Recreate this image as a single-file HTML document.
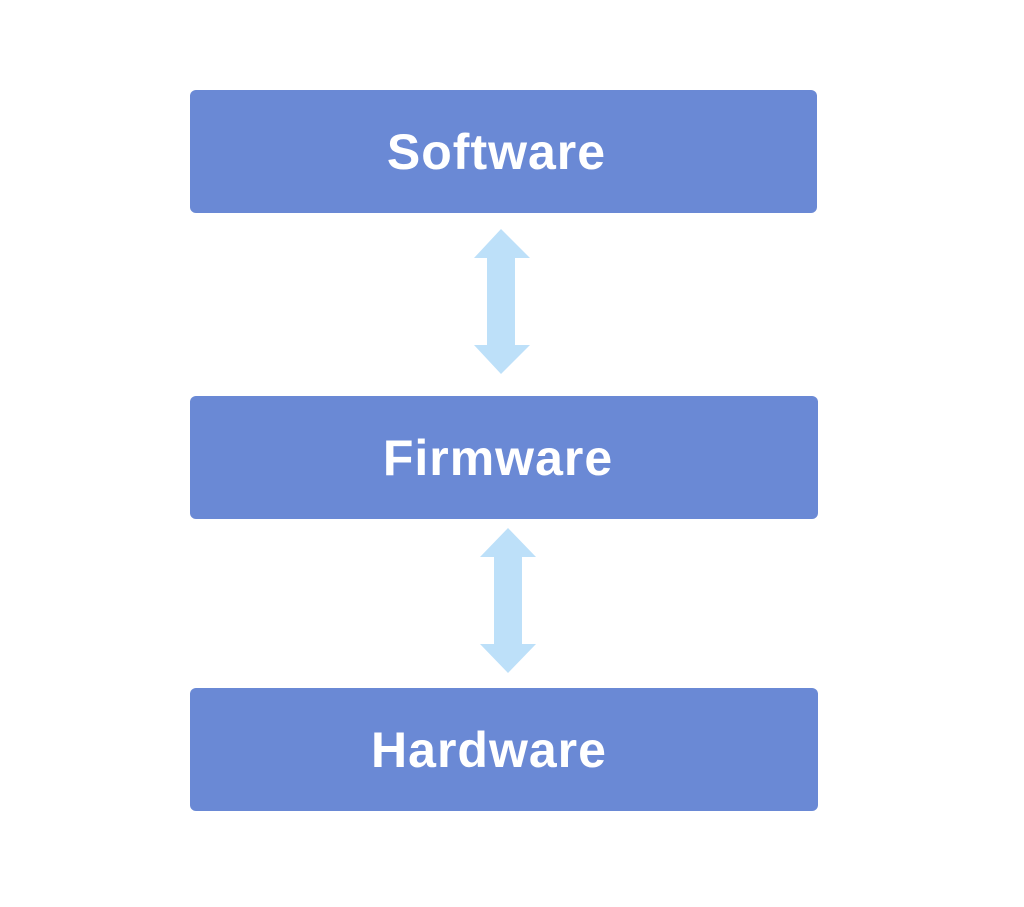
<!DOCTYPE html>
<html><head><style>
body{margin:0;width:1024px;height:907px;background:#fff;position:relative;overflow:hidden;font-family:"Liberation Sans",sans-serif}
.b{position:absolute;background:#6a89d5;border-radius:6px;color:#fff;font-weight:bold;font-size:50px;display:flex;align-items:center;justify-content:center;letter-spacing:1px;box-sizing:border-box}
</style></head><body>
<div class="b" style="left:190px;top:90px;width:627px;height:123px;padding-right:14px">Software</div>
<div class="b" style="left:190px;top:396px;width:628px;height:123px;padding-right:12px">Firmware</div>
<div class="b" style="left:190px;top:688px;width:628px;height:123px;padding-right:30px">Hardware</div>
<svg width="1024" height="907" style="position:absolute;left:0;top:0">
<polygon fill="#bde0f9" points="501,229 530,258 515,258 515,345 530,345 501,374 474,345 487,345 487,258 474,258"/>
<polygon fill="#bde0f9" points="508,528 536,557 522,557 522,644 536,644 508,673 480,644 494,644 494,557 480,557"/>
</svg>
</body></html>
